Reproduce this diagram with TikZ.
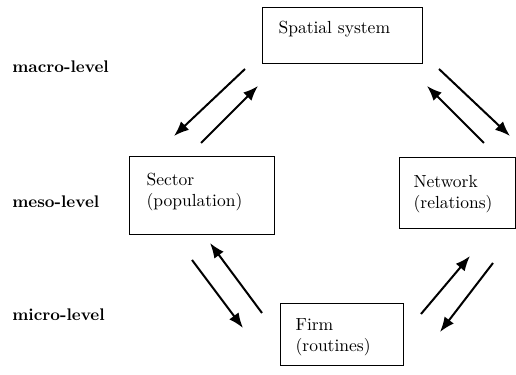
\documentclass[tikz,border=0pt]{standalone}
\usetikzlibrary{arrows.meta}

\begin{document}
\begin{tikzpicture}
		[x=0.6pt,y=-0.6pt,
		every node/.style={font=\fontsize{10.5}{12.6}\selectfont},
		levellabel/.style={font=\bfseries\fontsize{10.1}{12.6}\selectfont,anchor=west,inner sep=0pt},
		box/.style={draw,line width=0.7pt,anchor=north west,align=left,inner ysep=0pt},
		link/.style={line width=1.2pt,-{Latex[length=9pt,width=7pt]}}]
		\useasboundingbox (0,0) rectangle (516,375);
		% boxes
		\node[box,inner xsep=9.6pt,text width=76.8pt,text height=15.6pt,text depth=18pt] (spatial) at (262,7) {Spatial system};
		\node[box,inner xsep=10.2pt,text width=66.6pt,text height=17.4pt,text depth=29.4pt] (sector) at (129,156) {Sector\\(population)};
		\node[box,inner xsep=8.4pt,text width=52.8pt,text height=18pt,text depth=24.6pt] (network) at (399,157) {Network\\(relations)};
		\node[box,inner xsep=9pt,text width=55.8pt,text height=16.2pt,text depth=21pt] (firm) at (280,303) {Firm\\(routines)};
		% levels
		\node[levellabel] (macro) at (12,67) {macro-level};
		\node[levellabel] (meso) at (12,202) {meso-level};
		\node[levellabel] (micro) at (12,315) {micro-level};
		% arrow ends
		\coordinate (tl1) at (245,69);
		\coordinate (tl2) at (174,136);
		\coordinate (tl3) at (201,143);
		\coordinate (tl4) at (258,86);
		\coordinate (tr1) at (439,69);
		\coordinate (tr2) at (510,136);
		\coordinate (tr3) at (484,143);
		\coordinate (tr4) at (427,86);
		\coordinate (bl1) at (262,313);
		\coordinate (bl2) at (210,243);
		\coordinate (bl3) at (192,260);
		\coordinate (bl4) at (243,328);
		\coordinate (br1) at (421,314);
		\coordinate (br2) at (470,256);
		\coordinate (br3) at (493,263);
		\coordinate (br4) at (440,332);
		% arrows
		\draw[link] (tl1) -- (tl2);
		\draw[link] (tl3) -- (tl4);
		\draw[link] (tr1) -- (tr2);
		\draw[link] (tr3) -- (tr4);
		\draw[link] (bl1) -- (bl2);
		\draw[link] (bl3) -- (bl4);
		\draw[link] (br1) -- (br2);
		\draw[link] (br3) -- (br4);
	\end{tikzpicture}
\end{document}
